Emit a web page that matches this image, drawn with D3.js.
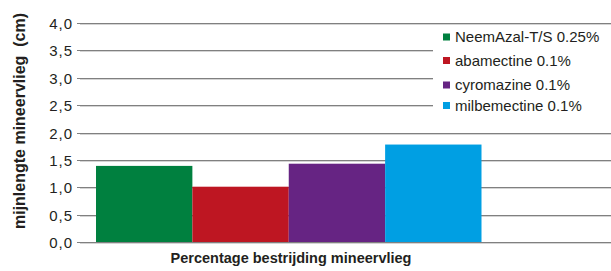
<!DOCTYPE html>
<html><head><meta charset="utf-8">
<script src="https://cdn.jsdelivr.net/npm/d3@7"></script>
<style>body{margin:0;background:#fff}svg{display:block}text{font-family:"Liberation Sans",Arial,sans-serif;white-space:pre}</style>
</head><body>
<svg id="c" width="611" height="271"></svg>
<script>
const series = ["NeemAzal-T/S 0.25%", "abamectine 0.1%", "cyromazine 0.1%", "milbemectine 0.1%"];
const values = [1.39, 1.01, 1.43, 1.78];
const colors = ["#00803f", "#be1622", "#662483", "#009fe3"];
const yTicks = [0, 0.5, 1, 1.5, 2, 2.5, 3, 3.5, 4];
const xTitle = "Percentage bestrijding mineervlieg";
const yTitle = "mijnlengte mineervlieg  (cm)";

const svg = d3.select("#c");
const y = d3.scaleLinear().domain([0, 4]).range([242, 23]);
const x = d3.scaleBand().domain(series).range([96, 481.5]).padding(0);

// gridlines
const g = svg.append("g");
yTicks.forEach(t => {
  const yy = Math.round(y(t)) + 0.5;
  g.append("line").attr("x1", 77).attr("x2", 611).attr("y1", yy).attr("y2", yy).attr("stroke", "#808080").attr("stroke-width", 1);
  g.append("line").attr("x1", 80).attr("x2", 611).attr("y1", yy + 1).attr("y2", yy + 1).attr("stroke", "#d4d4d4").attr("stroke-width", 1);
  g.append("text").attr("x", 73).attr("y", yy + 5).attr("text-anchor", "end")
    .attr("font-size", 15).attr("fill", "#231f20").attr("letter-spacing", 1)
    .text(d3.format(".1f")(t).replace(".", ","));
});

// bars
svg.append("g").selectAll("rect").data(series).join("rect")
  .attr("x", d => x(d)).attr("width", x.bandwidth())
  .attr("y", (d, i) => y(values[i])).attr("height", (d, i) => y(0) - y(values[i]))
  .attr("fill", (d, i) => colors[i]);

// legend
const lg = svg.append("g");
lg.append("rect").attr("x", 433).attr("y", 26).attr("width", 178).attr("height", 92).attr("fill", "#fff");
const ly = [37, 60.5, 85, 105.5];
series.forEach((s, i) => {
  lg.append("rect").attr("x", 443).attr("y", ly[i] - 3.5).attr("width", 7).attr("height", 7).attr("fill", colors[i]);
  lg.append("text").attr("x", 455).attr("y", ly[i] + 5).attr("font-size", 15).attr("fill", "#231f20").text(s);
});

// titles
svg.append("text").attr("x", 291).attr("y", 263).attr("text-anchor", "middle")
  .attr("font-size", 14.5).attr("font-weight", "bold").attr("fill", "#231f20").text(xTitle);
svg.append("text").attr("transform", "translate(25,121) rotate(-90)").attr("text-anchor", "middle")
  .attr("font-size", 16).attr("font-weight", "bold").attr("fill", "#231f20").text(yTitle);
</script>
</body></html>
